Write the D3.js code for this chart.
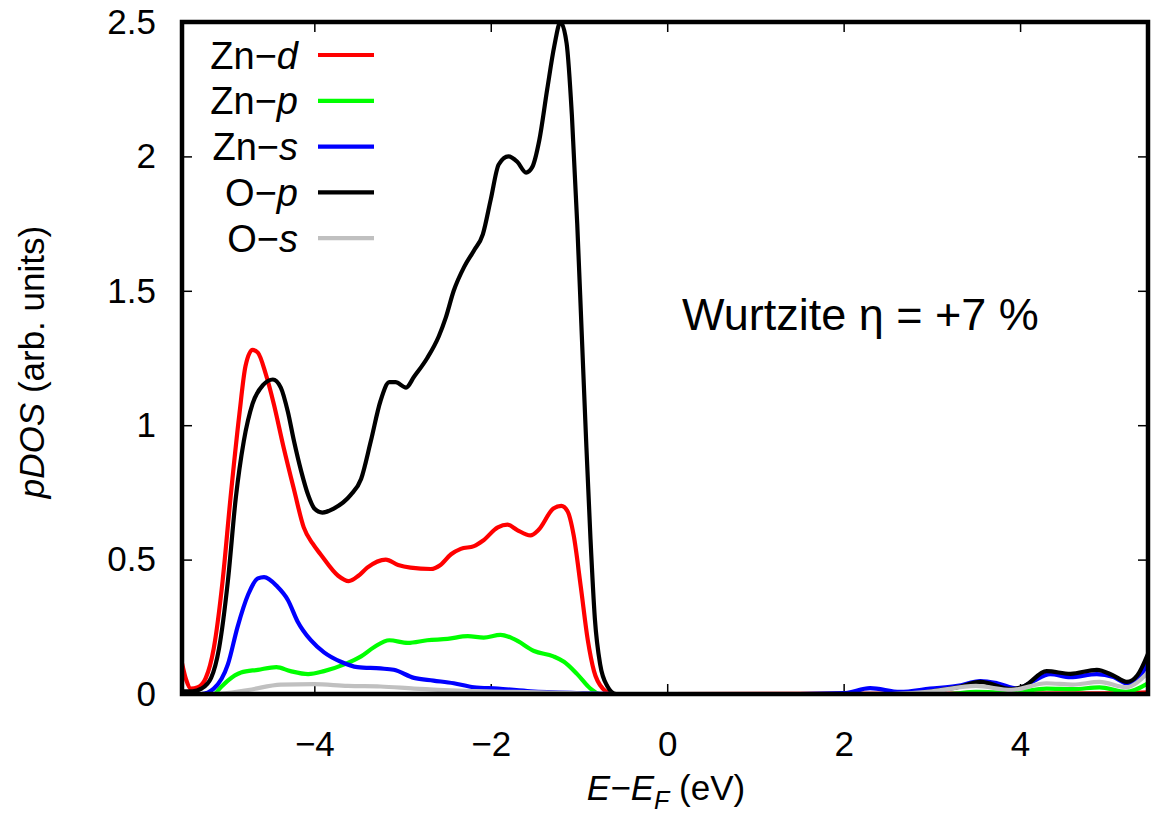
<html lang="en">
<head>
    <meta charset="UTF-8">
    <script src="https://d3js.org/d3.v7.min.js"></script>
    <title>pDOS Wurtzite</title>
    <style>
        body { margin: 0; background: #fff; }
        text { font-family: "Liberation Sans", Arial, Helvetica, sans-serif; fill: #000; }
    </style>
</head>
<body>
<script type="text/javascript">

    // energy (eV), pDOS (arb. units)
    let znD = [[-5.5,0.115],[-5.45,0.05],[-5.40,0.02],[-5.32,0.025],[-5.23,0.06],[-5.14,0.17],[-5.04,0.42],
        [-4.95,0.73],[-4.85,1.04],[-4.78,1.22],[-4.70,1.28],[-4.64,1.27],[-4.55,1.19],[-4.46,1.08],[-4.35,0.92],
        [-4.23,0.76],[-4.12,0.62],[-4.02,0.56],[-3.93,0.52],[-3.73,0.44],[-3.61,0.42],[-3.50,0.44],[-3.40,0.47],
        [-3.19,0.50],[-3.05,0.48],[-2.91,0.47],[-2.68,0.465],[-2.57,0.48],[-2.45,0.52],[-2.34,0.54],[-2.19,0.55],
        [-2.09,0.57],[-1.92,0.62],[-1.81,0.63],[-1.70,0.61],[-1.55,0.59],[-1.46,0.61],[-1.29,0.69],[-1.20,0.70],
        [-1.13,0.68],[-1.06,0.59],[-0.98,0.40],[-0.90,0.20],[-0.83,0.085],[-0.73,0.02],[-0.62,0],[0,0],
        [5.0,0.002],[5.45,0.006]];

    let znP = [[-5.5,0],[-5.14,0],[-5.06,0.025],[-4.98,0.05],[-4.83,0.08],[-4.64,0.09],[-4.43,0.10],[-4.27,0.085],
        [-4.07,0.074],[-3.89,0.085],[-3.66,0.11],[-3.47,0.14],[-3.32,0.175],[-3.15,0.20],[-2.94,0.19],[-2.72,0.20],
        [-2.49,0.205],[-2.26,0.215],[-2.08,0.21],[-1.89,0.22],[-1.74,0.205],[-1.51,0.16],[-1.29,0.14],[-1.17,0.12],
        [-1.02,0.074],[-0.87,0.02],[-0.76,0],[3.2,0],[3.5,0.008],[3.9,0.005],[4.3,0.02],[4.6,0.018],[4.9,0.025],
        [5.2,0.008],[5.45,0.04]];

    let znS = [[-5.5,0],[-5.28,0],[-5.14,0.02],[-4.98,0.11],[-4.87,0.25],[-4.75,0.37],[-4.64,0.43],[-4.57,0.435],
        [-4.42,0.40],[-4.30,0.35],[-4.19,0.27],[-4.04,0.20],[-3.89,0.155],[-3.70,0.12],[-3.51,0.10],[-3.25,0.095],
        [-3.10,0.09],[-2.87,0.06],[-2.65,0.05],[-2.42,0.04],[-2.19,0.025],[-1.92,0.02],[-1.55,0.01],[-0.98,0.003],
        [-0.6,0],[1.5,0],[2.0,0.003],[2.30,0.022],[2.64,0.008],[2.98,0.02],[3.29,0.03],[3.55,0.048],[3.74,0.04],
        [3.97,0.02],[4.15,0.048],[4.34,0.074],[4.57,0.063],[4.87,0.074],[5.06,0.063],[5.21,0.04],[5.34,0.06],
        [5.45,0.115]];

    let oP = [[-5.5,0.01],[-5.38,0.01],[-5.28,0.02],[-5.17,0.06],[-5.08,0.17],[-4.98,0.42],[-4.89,0.73],[-4.80,0.94],
        [-4.70,1.08],[-4.58,1.15],[-4.47,1.17],[-4.38,1.14],[-4.30,1.05],[-4.23,0.94],[-4.15,0.83],[-4.07,0.74],
        [-4.00,0.69],[-3.91,0.675],[-3.78,0.69],[-3.59,0.74],[-3.47,0.80],[-3.36,0.94],[-3.25,1.09],[-3.15,1.16],
        [-3.08,1.16],[-2.96,1.14],[-2.87,1.18],[-2.72,1.25],[-2.59,1.33],[-2.51,1.40],[-2.42,1.50],[-2.30,1.59],
        [-2.19,1.65],[-2.09,1.71],[-2.00,1.84],[-1.91,1.97],[-1.80,2.00],[-1.70,1.98],[-1.60,1.94],[-1.53,1.96],
        [-1.45,2.06],[-1.36,2.25],[-1.28,2.41],[-1.21,2.50],[-1.14,2.42],[-1.08,2.15],[-1.02,1.75],[-0.97,1.35],
        [-0.92,0.95],[-0.87,0.58],[-0.82,0.28],[-0.76,0.11],[-0.68,0.03],[-0.58,0],[2.8,0],[3.0,0.01],[3.29,0.025],
        [3.55,0.045],[3.9,0.018],[4.05,0.03],[4.30,0.085],[4.57,0.075],[4.87,0.09],[5.05,0.07],[5.21,0.045],
        [5.33,0.07],[5.45,0.15]];

    let oS = [[-5.5,0],[-5.14,0],[-4.75,0.015],[-4.38,0.035],[-4.00,0.037],[-3.62,0.03],[-3.25,0.028],[-2.87,0.02],
        [-2.30,0.012],[-1.74,0.008],[-1.0,0.002],[-0.5,0],[2.5,0],[3.0,0.01],[3.5,0.03],[3.9,0.015],[4.3,0.04],
        [4.6,0.035],[4.9,0.045],[5.2,0.025],[5.45,0.08]];

    let seriesNames = ["Zn\u2212|d", "Zn\u2212|p", "Zn\u2212|s", "O\u2212|p", "O\u2212|s"];
    let seriesColors = ["#ff0000", "#00ff00", "#0000ff", "#000000", "#c0c0c0"];
    let seriesData = [znD, znP, znS, oP, oS];

    let xTicks = [-4, -2, 0, 2, 4];
    let yTicks = [0, 0.5, 1, 1.5, 2, 2.5];

    let width = 1151, height = 814;
    let plotLeft = 182, plotRight = 1148, plotTop = 22, plotBottom = 694;

    let svg = d3.select("body").append("svg")
        .attr("width", width)
        .attr("height", height);

    svg.append("rect").attr("width", width).attr("height", height).attr("fill", "#fff");

    let x = d3.scaleLinear().domain([-5.5, 5.45]).range([plotLeft, plotRight]);
    let y = d3.scaleLinear().domain([0, 2.5]).range([plotBottom, plotTop]);

    svg.append("clipPath").attr("id", "plotclip")
        .append("rect")
        .attr("x", plotLeft).attr("y", plotTop)
        .attr("width", plotRight - plotLeft).attr("height", plotBottom - plotTop);

    // axes, gnuplot style: ticks inside, mirrored
    let fontSize = 35;

    svg.append("g")
        .attr("transform", `translate(0,${plotBottom})`)
        .call(d3.axisBottom(x).tickValues(xTicks).tickSizeInner(-10).tickSizeOuter(0).tickPadding(37));
    svg.append("g")
        .attr("transform", `translate(0,${plotTop})`)
        .call(d3.axisTop(x).tickValues(xTicks).tickSizeInner(-10).tickSizeOuter(0).tickFormat(""));
    svg.append("g")
        .attr("transform", `translate(${plotLeft},0)`)
        .call(d3.axisLeft(y).tickValues(yTicks).tickFormat(d3.format("~g"))
            .tickSizeInner(-10).tickSizeOuter(0).tickPadding(26));
    svg.append("g")
        .attr("transform", `translate(${plotRight},0)`)
        .call(d3.axisRight(y).tickValues(yTicks).tickSizeInner(-10).tickSizeOuter(0).tickFormat(""));

    svg.selectAll(".domain").remove();
    svg.selectAll(".tick line").attr("stroke", "#000").attr("stroke-width", 1.5);
    svg.selectAll(".tick text")
        .attr("font-family", "'Liberation Sans', Arial, sans-serif")
        .attr("font-size", fontSize)
        .attr("fill", "#000");

    // curves
    let line = d3.line()
        .x(d => x(d[0]))
        .y(d => y(d[1]))
        .curve(d3.curveMonotoneX);

    let plot = svg.append("g").attr("clip-path", "url(#plotclip)");
    plot.selectAll(".curve")
        .data(seriesData)
        .join("path")
        .attr("class", "curve")
        .attr("fill", "none")
        .attr("stroke", (d, i) => seriesColors[i])
        .attr("stroke-width", 4.2)
        .attr("stroke-linejoin", "round")
        .attr("d", line);

    // border
    svg.append("rect")
        .attr("x", plotLeft).attr("y", plotTop)
        .attr("width", plotRight - plotLeft).attr("height", plotBottom - plotTop)
        .attr("fill", "none")
        .attr("stroke", "#000")
        .attr("stroke-width", 4.5);

    // legend
    let legend = svg.append("g");
    seriesNames.forEach(function (name, i) {
        let ly = 55 + i * 45.8;
        let parts = name.split("|");
        let t = legend.append("text")
            .attr("x", 298)
            .attr("y", ly)
            .attr("dy", "0.36em")
            .attr("text-anchor", "end")
            .attr("font-size", 38);
        t.append("tspan").text(parts[0]);
        t.append("tspan").attr("font-style", "italic").text(parts[1]);
        legend.append("line")
            .attr("x1", 318).attr("x2", 374)
            .attr("y1", ly).attr("y2", ly)
            .attr("stroke", seriesColors[i])
            .attr("stroke-width", 4.2);
    });

    // annotation
    svg.append("text")
        .attr("x", 682)
        .attr("y", 330)
        .attr("font-size", 45)
        .text("Wurtzite \u03b7 = +7 %");

    // axis labels
    let xl = svg.append("text")
        .attr("x", 666)
        .attr("y", 800)
        .attr("text-anchor", "middle")
        .attr("font-size", fontSize);
    xl.append("tspan").attr("font-style", "italic").text("E\u2212E");
    xl.append("tspan").attr("font-style", "italic").attr("font-size", 25).attr("dy", 9).text("F");
    xl.append("tspan").attr("dy", -9).text(" (eV)");

    let yl = svg.append("text")
        .attr("transform", "translate(44,362) rotate(-90)")
        .attr("text-anchor", "middle")
        .attr("font-size", fontSize);
    yl.append("tspan").attr("font-style", "italic").text("pDOS");
    yl.append("tspan").text(" (arb. units)");

</script>
</body>
</html>
